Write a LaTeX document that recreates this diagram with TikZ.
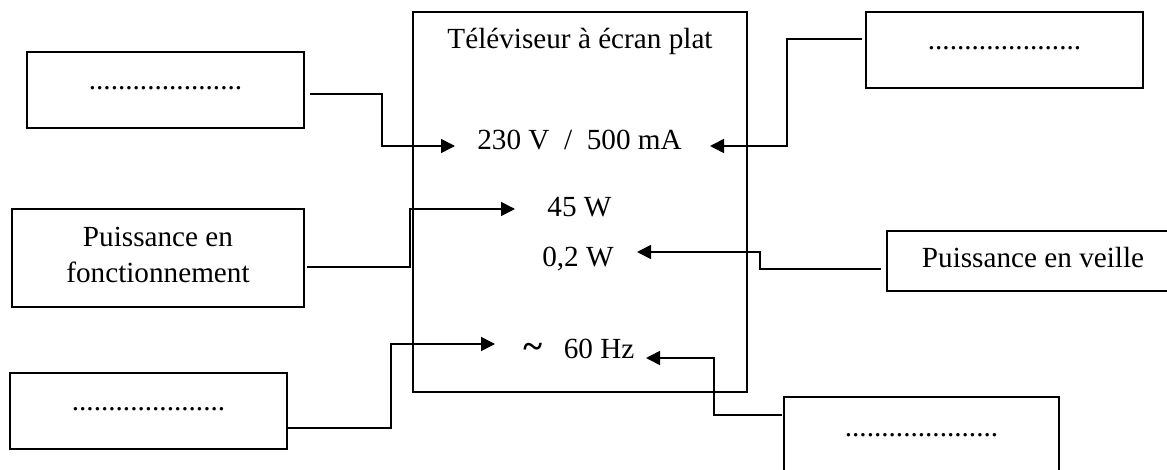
\documentclass[tikz,border=0pt]{standalone}
\usepackage{fontspec}
\setmainfont{Liberation Serif}
\usetikzlibrary{arrows.meta}
\begin{document}
\begin{tikzpicture}[x=0.75pt,y=-0.75pt,
  box/.style={draw, line width=1.4pt, inner sep=0pt},
  txt/.style={font=\fontsize{21.9}{26.3}\selectfont, inner sep=0pt, anchor=base, align=center},
  conn/.style={line width=1.2pt, -{Triangle[length=10.5pt,width=10.5pt]}}]
\useasboundingbox (0,0) rectangle (1167,470);
\clip (0,0) rectangle (1167,470);

% boxes
\node[box, minimum width=250.5pt, minimum height=285pt] (tv) at (580,202) {};
\node[box, minimum width=207.75pt, minimum height=57pt] (b1) at (165.5,90) {};
\node[box, minimum width=207.75pt, minimum height=57pt] (tr) at (1004.5,50) {};
\node[box, minimum width=219pt, minimum height=73.5pt] (bf) at (158,258) {};
\node[box, minimum width=249.75pt, minimum height=45pt] (bv) at (1053.5,261) {};
\node[box, minimum width=207.75pt, minimum height=57pt] (bl) at (148.5,411) {};
\node[box, minimum width=206.25pt, minimum height=57pt] (br) at (921.5,435) {};

% texts in the boxes
\node[txt] (ttitle) at (580,49) {Téléviseur à écran plat};
\node[txt] (d1) at (165.5,90) {.....................};
\node[txt] (d2) at (1004.5,50) {.....................};
\node[txt] (tf) at (158,282) {Puissance en\\fonctionnement};
\node[txt] (tvl) at (1033,268) {Puissance en veille};
\node[txt] (d3) at (148.5,410) {.....................};
\node[txt] (d4) at (921.5,436) {.....................};

% values
\node[txt] (t230) at (579.5,150) {230 V\ \ /\ \ 500 mA};
\node[txt] (t45) at (579.5,217) {45 W};
\node[txt] (t02) at (578,267) {0,2 W};
\node[txt, anchor=base west] (t60) at (523,358) {{\fontsize{27}{30}\selectfont\bfseries\textasciitilde}\hspace{0.75em}60 Hz};

% arrow tips
\coordinate (a230l) at (455,146);
\coordinate (a230r) at (710,146);
\coordinate (a45) at (515,209);
\coordinate (a02) at (637,252);
\coordinate (a60l) at (495,344);
\coordinate (a60r) at (646,358);

% connectors
\draw[conn] ([shift={(5,4)}]b1.east) -| (382,146) -- (a230l);
\draw[conn] ([shift={(-3,-11)}]tr.west) -| (787,146) -- (a230r);
\draw[conn] ([shift={(2,9)}]bf.east) -| (410,209) -- (a45);
\draw[conn] ([shift={(-5,8)}]bv.west) -| (760,252) -- (a02);
\draw[conn] ([shift={(0,17)}]bl.east) -| (391,344) -- (a60l);
\draw[conn] ([shift={(-1,-20)}]br.west) -| (714,358) -- (a60r);
\end{tikzpicture}
\end{document}
